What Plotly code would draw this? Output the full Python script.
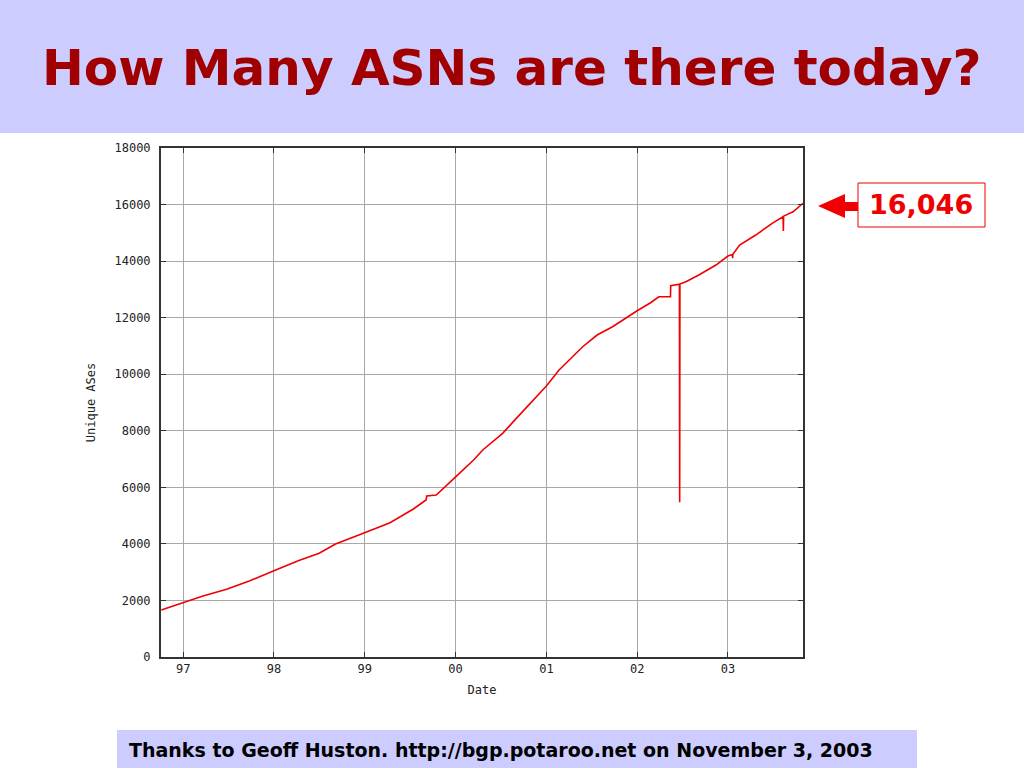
import plotly.graph_objects as go

# ---- data ----
dates = [
    "1996-10-05", "1997-01-01", "1997-03-22", "1997-06-25", "1997-09-24",
    "1998-01-01", "1998-04-09", "1998-07-02", "1998-09-06", "1999-01-01",
    "1999-04-13", "1999-07-16", "1999-09-05", "1999-09-08", "1999-10-16",
    "2000-01-01", "2000-03-14", "2000-04-20", "2000-07-09", "2000-09-02",
    "2000-10-23", "2001-01-01", "2001-02-21", "2001-05-27", "2001-07-24",
    "2001-09-24", "2002-01-01", "2002-02-24", "2002-03-29", "2002-05-15",
    "2002-05-16", "2002-06-20", "2002-06-21", "2002-06-22", "2002-07-16",
    "2002-09-06", "2002-11-14", "2003-01-01", "2003-01-19", "2003-01-20",
    "2003-01-21", "2003-02-17", "2003-04-23", "2003-06-28", "2003-08-11",
    "2003-08-12", "2003-08-13", "2003-09-20", "2003-10-30",
]
unique_ases = [
    1662, 1934, 2157, 2393, 2687,
    3052, 3405, 3667, 3995, 4395,
    4749, 5233, 5552, 5693, 5728,
    6360, 6966, 7320, 7910, 8440,
    8911, 9583, 10148, 10972, 11386,
    11680, 12246, 12528, 12740, 12740,
    13130, 13180, 5470, 13190, 13271,
    13508, 13861, 14180, 14230, 14100,
    14240, 14569, 14922, 15335, 15570,
    15064, 15590, 15746, 16046,
]
y_ticks = [0, 2000, 4000, 6000, 8000, 10000, 12000, 14000, 16000, 18000]
y_tick_labels = ["0", "2000", "4000", "6000", "8000", "10000", "12000",
                 "14000", "16000", "18000"]
x_range = ["1996-10-04", "2003-10-30"]
title_text = "How Many ASNs are there today?"
callout_text = "16,046"
footer_text = "Thanks to Geoff Huston. http://bgp.potaroo.net on November 3, 2003"

# ---- layout geometry (pixels) ----
W, H = 1024, 768
L, R, T, B = 161, 803, 148, 657


def px(xp):
    return (xp - L) / (R - L)


def py(yp):
    return (B - yp) / (B - T)


fig = go.Figure()
fig.add_trace(go.Scatter(
    x=dates, y=unique_ases, mode="lines",
    line=dict(color="#F00000", width=1.6),
    hoverinfo="x+y", showlegend=False,
))

mono = dict(family="DejaVu Sans Mono, monospace", size=12, color="#222222")

fig.update_layout(
    width=W, height=H,
    margin=dict(l=L, r=W - R, t=T, b=H - B, pad=0),
    paper_bgcolor="white", plot_bgcolor="white",
    xaxis=dict(
        type="date", range=x_range, tickformat="%y", dtick="M12",
        tick0="1997-01-01", showgrid=True, gridcolor="#A8A8A8", gridwidth=1,
        showline=True, linecolor="#333333", linewidth=2, mirror="ticks",
        ticks="inside", ticklen=5, tickcolor="#333333", tickfont=mono,
        title=dict(text="Date", font=mono, standoff=10), zeroline=False,
    ),
    yaxis=dict(
        range=[0, 18000], tickvals=y_ticks, ticktext=y_tick_labels,
        showgrid=True, gridcolor="#A8A8A8", gridwidth=1, showline=True,
        linecolor="#333333", linewidth=2, mirror="ticks", ticks="inside",
        ticklen=5, tickcolor="#333333", tickfont=mono, ticklabelstandoff=6,
        title=dict(text="Unique ASes", font=mono, standoff=16), zeroline=False,
    ),
    font=dict(family="Liberation Sans, Arial, sans-serif"),
)

arrow_pts = [(818, 206), (845, 194), (845, 202), (858, 202),
             (858, 211), (845, 211), (845, 218)]
arrow_path = "M " + " L ".join(f"{px(a):.5f},{py(b):.5f}" for a, b in arrow_pts) + " Z"

shapes = [
    # title band
    dict(type="rect", xref="paper", yref="paper", x0=px(0), x1=px(W),
         y0=py(133), y1=py(0), fillcolor="#CCCCFF", line=dict(width=0),
         layer="below"),
    # footer band
    dict(type="rect", xref="paper", yref="paper", x0=px(117), x1=px(917),
         y0=py(768), y1=py(730), fillcolor="#CCCCFF", line=dict(width=0),
         layer="below"),
    # callout box
    dict(type="rect", xref="paper", yref="paper", x0=px(858), x1=px(985),
         y0=py(227), y1=py(183), fillcolor="white",
         line=dict(color="#F00000", width=1)),
    # arrow
    dict(type="path", xref="paper", yref="paper", path=arrow_path,
         fillcolor="#F00000", line=dict(width=0)),
]
fig.update_layout(shapes=shapes)

wide = "DejaVu Sans, Liberation Sans, sans-serif"
fig.add_annotation(
    xref="paper", yref="paper", x=px(512), y=py(68), text="<b>" + title_text + "</b>",
    showarrow=False, xanchor="center", yanchor="middle",
    font=dict(family=wide, size=50, color="#A00000"),
)
fig.add_annotation(
    xref="paper", yref="paper", x=px(921), y=py(205), text="<b>" + callout_text + "</b>",
    showarrow=False, xanchor="center", yanchor="middle",
    font=dict(family=wide, size=27, color="#F00000"),
)
fig.add_annotation(
    xref="paper", yref="paper", x=px(127), y=py(750), text="<b>" + footer_text + "</b>",
    showarrow=False, xanchor="left", yanchor="middle",
    font=dict(family=wide, size=19, color="black"),
)

fig.write_html("out.html", config={"displayModeBar": False},
               post_script="document.body.style.margin='0';")
